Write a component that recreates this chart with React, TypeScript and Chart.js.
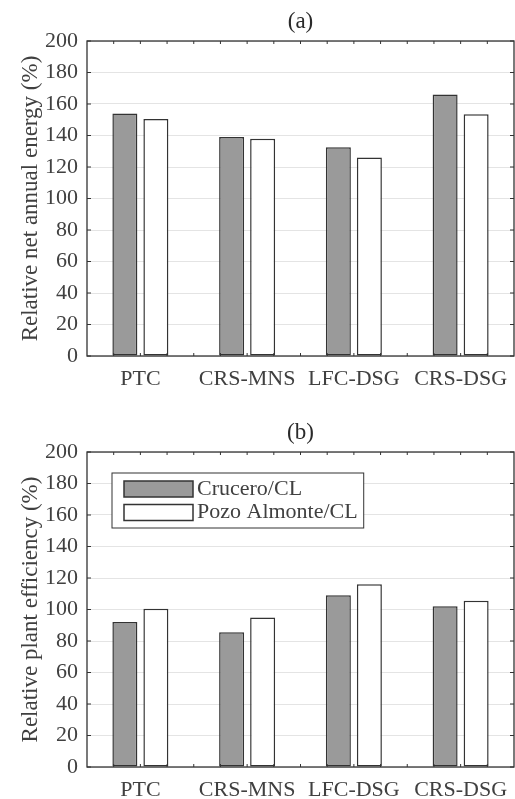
import React, { useEffect, useRef } from 'react';
import { Chart, registerables } from 'chart.js';

Chart.register(...registerables);

const categories = ['PTC', 'CRS-MNS', 'LFC-DSG', 'CRS-DSG'];
const seriesNames = ['Crucero/CL', 'Pozo Almonte/CL'];
const energyCrucero = [154, 139, 132.5, 166];
const energyPozo = [150.5, 138, 126, 153.5];
const efficiencyCrucero = [92, 85.5, 109, 102];
const efficiencyPozo = [100.5, 95, 116, 105.5];
const yMin = 0;
const yMax = 200;
const yStep = 20;

const FONT = '"Liberation Serif", "Times New Roman", serif';
const TEXT = '#404040';
const AXIS = '#333333';
const GRID = '#e4e4e4';
const GRAY = '#9a9a9a';

const framePlugin = {
  id: 'frame',
  afterDatasetsDraw(chart: any, _args: any, opts: any) {
    const { ctx, chartArea: a, scales } = chart;
    ctx.save();
    ctx.strokeStyle = AXIS;
    ctx.lineWidth = 1.3;
    ctx.strokeRect(a.left, a.top, a.right - a.left, a.bottom - a.top);
    ctx.lineWidth = 1;
    const ys = scales.y;
    ys.ticks.forEach((t: any) => {
      const y = ys.getPixelForValue(t.value);
      ctx.beginPath();
      ctx.moveTo(a.left, y);
      ctx.lineTo(a.left + 4, y);
      ctx.moveTo(a.right, y);
      ctx.lineTo(a.right - 4, y);
      ctx.stroke();
    });
    const xs = scales.x;
    const n = chart.data.labels.length;
    const w = xs.getPixelForValue(1) - xs.getPixelForValue(0);
    const start = xs.getPixelForValue(0) - w / 2;
    for (let k = 1; k < n * 4; k++) {
      const x = start + (k * w) / 4;
      ctx.beginPath();
      ctx.moveTo(x, a.top);
      ctx.lineTo(x, a.top + 3);
      ctx.moveTo(x, a.bottom);
      ctx.lineTo(x, a.bottom - 3);
      ctx.stroke();
    }
    ctx.fillStyle = '#2a2a2a';
    ctx.font = `23px ${FONT}`;
    ctx.textAlign = 'center';
    ctx.textBaseline = 'middle';
    ctx.fillText(opts.title, (a.left + a.right) / 2, a.top - 19);
    if (opts.legend) {
      const ds = chart.data.datasets;
      ctx.font = `22px ${FONT}`;
      let maxW = 0;
      ds.forEach((d: any) => {
        maxW = Math.max(maxW, ctx.measureText(d.label).width);
      });
      const bx = a.left + 25;
      const by = a.top + 21;
      const textX = a.left + 110;
      const bw = textX + maxW + 6 - bx;
      const bh = 55;
      ctx.fillStyle = '#ffffff';
      ctx.fillRect(bx, by, bw, bh);
      ctx.strokeStyle = AXIS;
      ctx.lineWidth = 1;
      ctx.strokeRect(bx, by, bw, bh);
      ds.forEach((d: any, i: number) => {
        const sy = by + 8 + i * 23.5;
        ctx.fillStyle = d.backgroundColor;
        ctx.fillRect(a.left + 37, sy, 69, 16);
        ctx.strokeStyle = AXIS;
        ctx.lineWidth = 1.5;
        ctx.strokeRect(a.left + 37, sy, 69, 16);
        ctx.fillStyle = TEXT;
        ctx.textAlign = 'left';
        ctx.textBaseline = 'middle';
        ctx.fillText(d.label, textX, sy + 8);
      });
    }
    ctx.restore();
  },
};

type PanelProps = {
  top: number;
  title: string;
  yLabel: string;
  a: number[];
  b: number[];
  legend: boolean;
};

function Panel({ top, title, yLabel, a, b, legend }: PanelProps) {
  const ref = useRef<HTMLCanvasElement>(null);
  useEffect(() => {
    const barStyle = {
      borderColor: AXIS,
      borderWidth: 1.5,
      borderSkipped: false,
      categoryPercentage: 0.581,
      barPercentage: 0.806,
    };
    const chart = new Chart(ref.current as HTMLCanvasElement, {
      type: 'bar',
      data: {
        labels: categories,
        datasets: [
          { label: seriesNames[0], data: a, backgroundColor: GRAY, ...barStyle } as any,
          { label: seriesNames[1], data: b, backgroundColor: '#ffffff', ...barStyle } as any,
        ],
      },
      options: {
        responsive: false,
        animation: false,
        devicePixelRatio: 1,
        layout: { padding: { top: 41, right: 1, bottom: 2, left: 0 } },
        scales: {
          x: {
            grid: { display: false, drawTicks: false },
            border: { display: false },
            ticks: {
              font: { family: FONT, size: 22 },
              color: TEXT,
              padding: 10,
              maxRotation: 0,
              autoSkip: false,
            },
            afterFit: (s: any) => {
              s.height = 30;
              s.paddingLeft = 0;
              s.paddingRight = 0;
            },
          },
          y: {
            min: yMin,
            max: yMax,
            ticks: {
              stepSize: yStep,
              font: { family: FONT, size: 22 },
              color: TEXT,
              padding: 9,
            },
            grid: { color: GRID, drawTicks: false, lineWidth: 1 },
            border: { display: false },
            title: {
              display: true,
              text: yLabel,
              font: { family: FONT, size: 23 },
              color: TEXT,
              padding: { top: 17, bottom: 0 },
            },
            afterFit: (s: any) => {
              s.width = 87;
              s.paddingTop = 0;
              s.paddingBottom = 0;
            },
          },
        },
        plugins: {
          legend: { display: false },
          tooltip: { enabled: false },
          frame: { title, legend },
        } as any,
      },
      plugins: [framePlugin],
    });
    return () => chart.destroy();
  }, []);
  return (
    <canvas
      ref={ref}
      width={515}
      height={388}
      style={{ position: 'absolute', left: 0, top, width: 515, height: 388 }}
    />
  );
}

export default function App() {
  return (
    <div style={{ position: 'absolute', left: 0, top: 0, width: 515, height: 799, background: '#fff' }}>
      <Panel
        top={0}
        title="(a)"
        yLabel="Relative net annual energy (%)"
        a={energyCrucero}
        b={energyPozo}
        legend={false}
      />
      <Panel
        top={411}
        title="(b)"
        yLabel="Relative plant efficiency (%)"
        a={efficiencyCrucero}
        b={efficiencyPozo}
        legend={true}
      />
    </div>
  );
}
